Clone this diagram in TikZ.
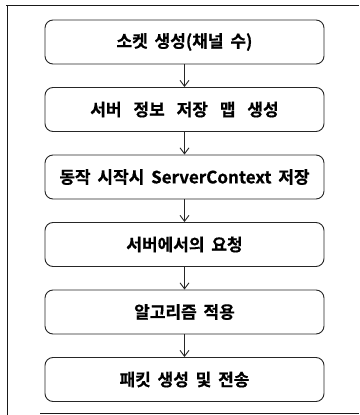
\documentclass[tikz,border=0pt]{standalone}
\usepackage{fontspec}
\newfontfamily\kr{Noto Sans CJK KR Bold}[FakeBold=0.6]
\newcommand\krbox{\kr\fontsize{17}{20}\selectfont\spaceskip=0.4em\relax}
\newcommand\krwide{\kr\fontsize{17}{20}\selectfont\spaceskip=0.7em\relax}
\usetikzlibrary{arrows.meta}
\begin{document}
\begin{tikzpicture}[x=1pt,y=-1pt,
  stepbox/.style={draw=black!85, line width=0.9pt, rounded corners=8pt, minimum width=279pt, minimum height=44pt, inner sep=0pt, font=\krbox, text=black},
  widegap/.style={font=\krwide},
  flow/.style={draw=black!85, line width=0.9pt, -{Straight Barb[length=6pt,width=9pt,line width=0.9pt]}},
  frame/.style={draw=black!90, line width=1pt}]
\useasboundingbox (0,0) rectangle (359,415);
\draw[frame] (6,5) -- (359,5);
\draw[frame] (7,5) -- (7,415);
\draw[frame] (40,413) -- (359,413);
\node[stepbox] (b1) at (184.5,42) {소켓 생성(채널 수)};
\node[stepbox,widegap] (b2) at (184.5,109.5) {서버 정보 저장 맵 생성};
\node[stepbox] (b3) at (184.5,177) {동작 시작시 ServerContext 저장};
\node[stepbox] (b4) at (184.5,244.5) {서버에서의 요청};
\node[stepbox] (b5) at (184.5,312) {알고리즘 적용};
\node[stepbox] (b6) at (184.5,379.5) {패킷 생성 및 전송};
\draw[flow] (b1) -- (b2);
\draw[flow] (b2) -- (b3);
\draw[flow] (b3) -- (b4);
\draw[flow] (b4) -- (b5);
\draw[flow] (b5) -- (b6);
\end{tikzpicture}
\end{document}
